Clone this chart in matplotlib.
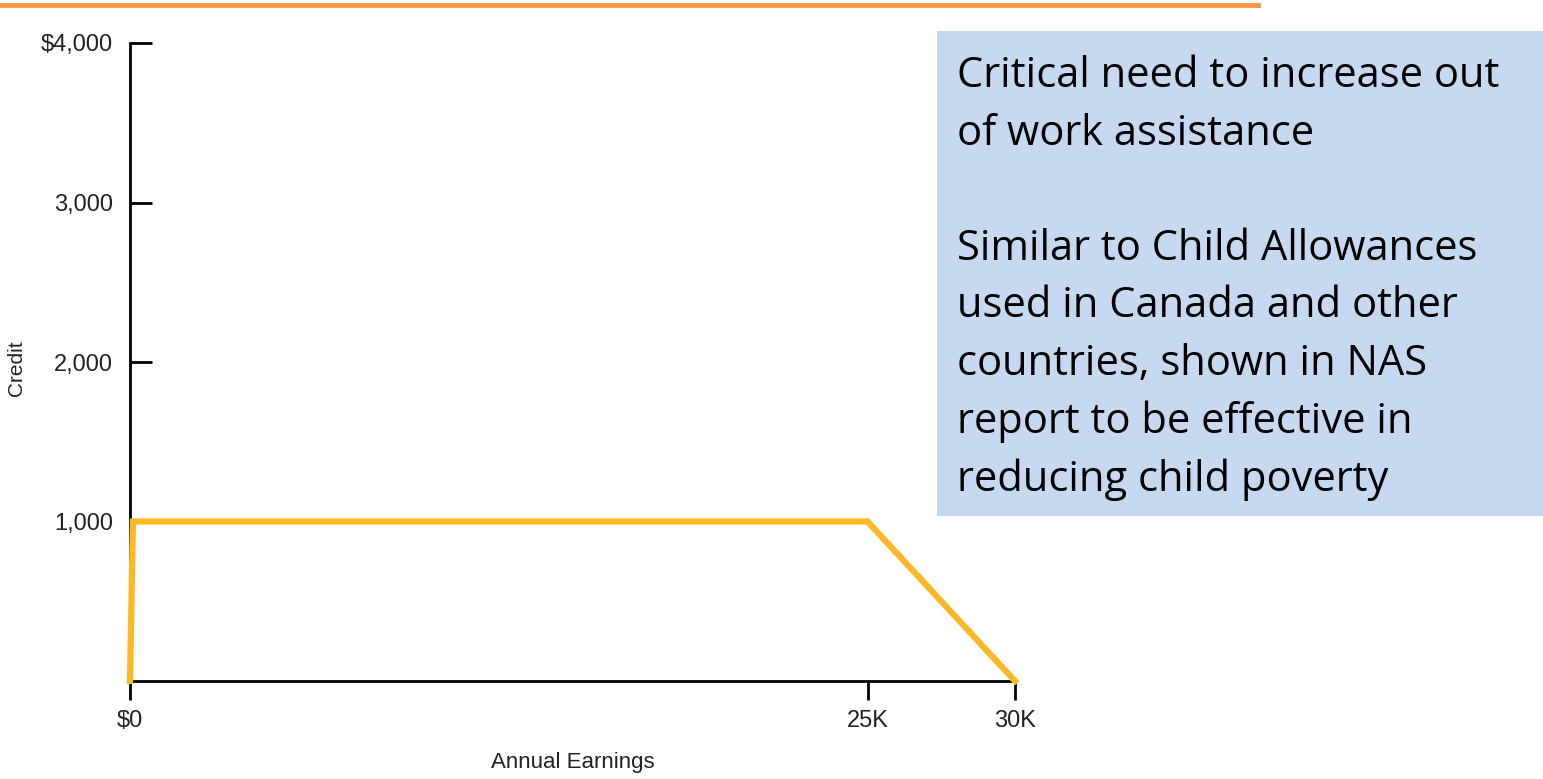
import matplotlib
matplotlib.use("Agg")
import matplotlib.pyplot as plt
from matplotlib.patches import Rectangle
from matplotlib.lines import Line2D

# data
earnings = [0, 100, 25000, 30000]
credit = [0, 1000, 1000, 0]
xticks = [0, 25000, 30000]
xtick_labels = ["$0", "25K", "30K"]
yticks = [1000, 2000, 3000, 4000]
ytick_labels = ["1,000", "2,000", "3,000", "$4,000"]
box_text = ("Critical need to increase out\nof work assistance\n\n"
            "Similar to Child Allowances\nused in Canada and other\n"
            "countries, shown in NAS\nreport to be effective in\n"
            "reducing child poverty")

W, H = 1543, 779
narrow = ["Liberation Sans", "DejaVu Sans"]

fig = plt.figure(figsize=(W / 100, H / 100), dpi=100)

# orange rule at top
fig.add_artist(Line2D([0, 1258 / W], [1 - 5 / H, 1 - 5 / H], color="#F79646",
                      lw=3.5, transform=fig.transFigure))

# blue text box
fig.add_artist(Rectangle((937 / W, 1 - 516 / H), (W - 937) / W, (516 - 31) / H,
                         transform=fig.transFigure, facecolor="#C6D9F1",
                         edgecolor="none"))
fig.text(957 / W, 1 - 55 / H, box_text, fontsize=30, va="top", ha="left",
         family=["Open Sans", "DejaVu Sans"], linespacing=1.485, color="black")

ax = fig.add_axes([130 / W, 1 - 681 / H, (1015 - 130) / W, (681 - 43) / H])
ax.plot(earnings, credit, color="#FDB827", lw=4.5, solid_joinstyle="miter",
        clip_on=False, zorder=3)
ax.set_xlim(0, 30000)
ax.set_ylim(0, 4000)
for s in ["top", "right"]:
    ax.spines[s].set_visible(False)
for s in ["left", "bottom"]:
    ax.spines[s].set_linewidth(2)
ax.set_xticks(xticks)
ax.set_xticklabels(xtick_labels, family=narrow, fontsize=17, color="#222222")
ax.set_yticks(yticks)
ax.set_yticklabels(ytick_labels, family=narrow, fontsize=17, color="#222222")
ax.tick_params(axis="x", length=14, width=2, direction="out", pad=7)
ax.tick_params(axis="y", length=16, width=2, direction="in", pad=12)
ax.set_xlabel("Annual Earnings", family=narrow, fontsize=16, labelpad=14,
              color="#222222")
ax.set_ylabel("Credit", family=narrow, fontsize=15, color="#222222")
ax.yaxis.set_label_coords(-0.1175, 0.49)

fig.savefig("out.png", dpi=100)
